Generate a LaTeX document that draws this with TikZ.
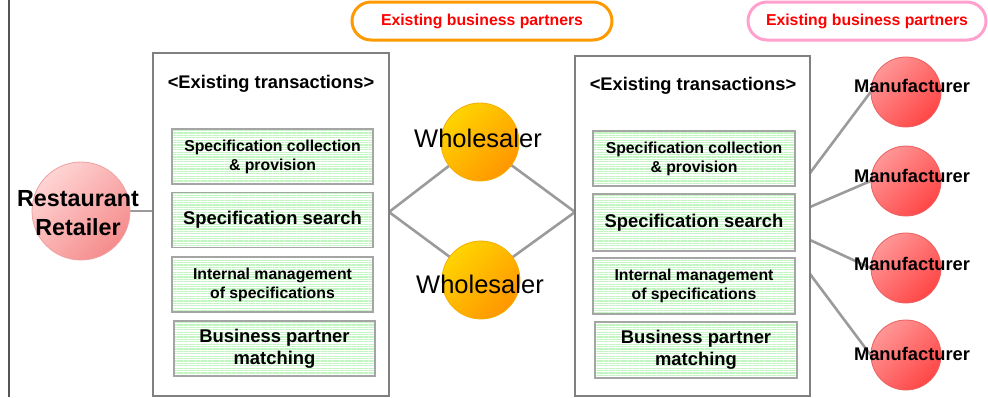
\documentclass[tikz,border=0pt]{standalone}
\usepackage{fontspec}
\setmainfont{Liberation Sans}
\usetikzlibrary{patterns.meta}
\pgfdeclarelayer{background}
\pgfsetlayers{background,main}
\definecolor{framegray}{RGB}{128,128,128}
\definecolor{edgegray}{RGB}{85,85,85}
\definecolor{boxgray}{RGB}{165,165,165}
\definecolor{linegray}{RGB}{155,155,155}
\definecolor{stripe}{RGB}{195,245,195}
\definecolor{orng}{RGB}{255,153,0}
\definecolor{pinkb}{RGB}{255,160,205}
\definecolor{redtxt}{RGB}{255,0,0}
\definecolor{rA}{RGB}{255,212,212}
\definecolor{rB}{RGB}{245,140,140}
\definecolor{rD}{RGB}{240,160,160}
\definecolor{wA}{RGB}{255,212,0}
\definecolor{wB}{RGB}{255,150,0}
\definecolor{wD}{RGB}{245,175,0}
\definecolor{mA}{RGB}{255,150,150}
\definecolor{mB}{RGB}{255,70,70}
\definecolor{mD}{RGB}{235,95,95}
\begin{document}
\begin{tikzpicture}[x=1pt,y=-1pt,
  outerbox/.style={draw=framegray, line width=2.4pt, inner sep=0pt},
  featbox/.style={draw=boxgray, line width=1.6pt, inner sep=0pt,
    minimum width=201pt, minimum height=55pt, align=center,
    pattern={Lines[angle=0,distance=2.4pt,line width=1.2pt]}, pattern color=stripe},
  smalltxt/.style={font=\bfseries\fontsize{15.8}{19}\selectfont},
  bigtxt/.style={font=\bfseries\fontsize{18.4}{22}\selectfont},
  titletxt/.style={font=\bfseries\fontsize{18.3}{20}\selectfont},
  pill/.style={rounded corners=19pt, line width=3pt, minimum height=38pt,
    text=redtxt, font=\bfseries\fontsize{15.8}{18}\selectfont},
  conn/.style={draw=linegray, line width=2.6pt},
  restball/.style={circle, inner sep=0pt, minimum size=98pt, top color=rA, bottom color=rB, shading angle=45, draw=rD, line width=0.8pt},
  wholeball/.style={circle, inner sep=0pt, minimum size=78pt, top color=wA, bottom color=wB, shading angle=45, draw=wD, line width=0.8pt},
  manball/.style={circle, inner sep=0pt, minimum size=70pt, top color=mA, bottom color=mB, shading angle=45, draw=mD, line width=0.8pt},
  mantxt/.style={font=\bfseries\fontsize{18.3}{20}\selectfont},
  wtxt/.style={font=\fontsize{25.5}{28}\selectfont}
]
\useasboundingbox (0,0) rectangle (988,397);
% left edge line
\draw[edgegray, line width=1.6pt] (9,0) coordinate (et) -- (9,397) coordinate (eb);

% top pills
\node[pill, draw=orng, minimum width=260pt] (p1) at (482,21) {Existing business partners};
\node[pill, draw=pinkb, minimum width=238pt] (p2) at (867,21) {Existing business partners};

% left transactions box
\node[outerbox, minimum width=236pt, minimum height=343pt] (lbox) at (271,224.5) {};
\node[titletxt] (lt) at (271,84) {<Existing transactions>};
\node[featbox, smalltxt] (l1) at (272.5,156.5) {Specification collection\\\& provision};
\node[featbox, bigtxt] (l2) at (272.5,220) {Specification search};
\node[featbox, smalltxt] (l3) at (272.5,284.5) {Internal management\\of specifications};
\node[featbox, bigtxt] (l4) at (274.5,348.5) {Business partner\\matching};

% right transactions box
\node[outerbox, minimum width=235pt, minimum height=340pt] (rbox) at (692.5,226) {};
\node[titletxt] (rt) at (693,86) {<Existing transactions>};
\node[featbox, smalltxt, minimum width=202pt] (r1) at (694,158.5) {Specification collection\\\& provision};
\node[featbox, bigtxt, minimum width=202pt, minimum height=57pt] (r2) at (694,222.5) {Specification search};
\node[featbox, smalltxt, minimum width=202pt, minimum height=56pt] (r3) at (694,286) {Internal management\\of specifications};
\node[featbox, bigtxt, minimum width=202pt, minimum height=56pt] (r4) at (696,350) {Business partner\\matching};

% restaurant
\node[restball] (rr) at (81,211) {};
\node[font=\bfseries\fontsize{23.3}{29}\selectfont, align=center] (rrt) at (78,213) {Restaurant\\Retailer};

% wholesalers
\node[wholeball] (w1) at (480,142) {};
\node[wtxt] (w1t) at (478,138) {Wholesaler};
\node[wholeball] (w2) at (481,280) {};
\node[wtxt] (w2t) at (480,284) {Wholesaler};

% manufacturers
\node[manball] (m1) at (906,92) {};
\node[mantxt] (m1t) at (912,86) {Manufacturer};
\node[manball] (m2) at (906,181) {};
\node[mantxt] (m2t) at (912,176) {Manufacturer};
\node[manball] (m3) at (906,268) {};
\node[mantxt] (m3t) at (912,264) {Manufacturer};
\node[manball] (m4) at (906,355) {};
\node[mantxt] (m4t) at (912,354) {Manufacturer};

% junction points on box edges
\coordinate (lj) at (389,212);
\coordinate (rj) at (575,212);
\coordinate (q1) at (810,173);
\coordinate (q2) at (810,207);
\coordinate (q3) at (810,240);
\coordinate (q4) at (810,274);

\begin{pgfonlayer}{background}
  \draw[conn] (rr.east) -- (rr.east -| lbox.west);
  \draw[conn] (lj) -- (w1.center);
  \draw[conn] (lj) -- (w2.center);
  \draw[conn] (w1.center) -- (rj);
  \draw[conn] (w2.center) -- (rj);
  \draw[conn] (q1) -- (m1.west);
  \draw[conn] (q2) -- (m2.west);
  \draw[conn] (q3) -- (m3.west);
  \draw[conn] (q4) -- (m4.west);
\end{pgfonlayer}
\end{tikzpicture}
\end{document}
